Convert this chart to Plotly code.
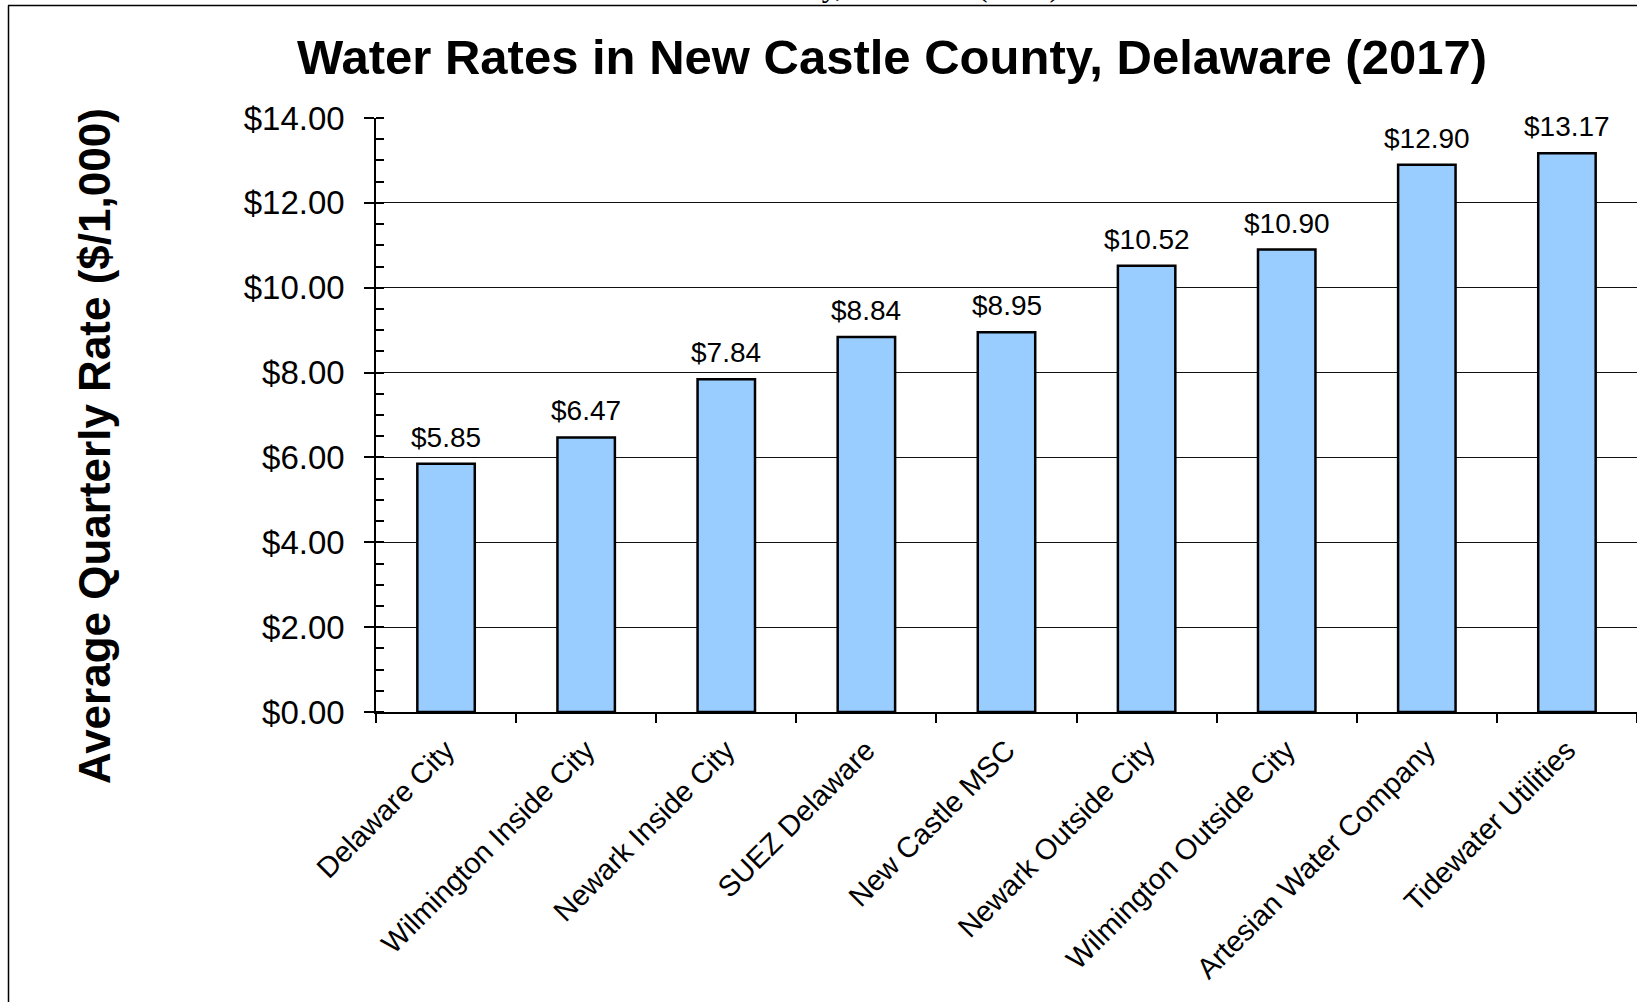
import plotly.graph_objects as go

# ---- data ----
categories = [
    "Delaware City",
    "Wilmington Inside City",
    "Newark Inside City",
    "SUEZ Delaware",
    "New Castle MSC",
    "Newark Outside City",
    "Wilmington Outside City",
    "Artesian Water Company",
    "Tidewater Utilities",
]
rates = [5.85, 6.47, 7.84, 8.84, 8.95, 10.52, 10.90, 12.90, 13.17]
title_text = "Water Rates in New Castle County, Delaware (2017)"
y_title = "Average Quarterly Rate ($/1,000)"

# ---- layout geometry (page pixels; body margin removed below) ----
W, H = 1637, 1002
L, R, T, B = 376, 1637, 118, 712   # plot area


def px_x(px):
    return (px - L) / (R - L)


def px_y(py):
    return (B - py) / (B - T)


FONT = "Liberation Sans, Arial, sans-serif"

fig = go.Figure()
fig.add_trace(
    go.Bar(
        x=categories,
        y=rates,
        marker=dict(color="#99CCFF", line=dict(color="#000000", width=2.5)),
        hoverinfo="x+y",
    )
)

annotations = []
for c, v in zip(categories, rates):
    annotations.append(
        dict(
            x=c, y=v, xref="x", yref="y",
            text=f"${v:.2f}",
            showarrow=False,
            yanchor="bottom",
            yshift=9,
            font=dict(family=FONT, size=28, color="#000000"),
        )
    )

# y-axis title
annotations.append(
    dict(
        x=px_x(95), y=px_y(446), xref="paper", yref="paper",
        text=f"<b>{y_title}</b>",
        textangle=-90,
        showarrow=False,
        xanchor="center", yanchor="middle",
        font=dict(family=FONT, size=44, color="#000000"),
    )
)

# clipped document caption fragment at the very top
annotations.append(
    dict(
        x=px_x(1062), y=px_y(5.2), xref="paper", yref="paper",
        text=title_text,
        showarrow=False,
        xanchor="right", yanchor="bottom",
        font=dict(family="Liberation Serif, Times New Roman, serif", size=31, color="#000000"),
    )
)

shapes = [
    # top border
    dict(type="line", xref="paper", yref="paper",
         x0=px_x(8), x1=px_x(1650), y0=px_y(5.5), y1=px_y(5.5),
         line=dict(color="#000000", width=1.5)),
    # left border
    dict(type="line", xref="paper", yref="paper",
         x0=px_x(8.5), x1=px_x(8.5), y0=px_y(5.5), y1=px_y(1010),
         line=dict(color="#000000", width=1.5)),
]

fig.update_layout(
    width=W, height=H,
    margin=dict(l=L, r=W - R, t=T, b=H - B, pad=0),
    paper_bgcolor="#FFFFFF",
    plot_bgcolor="#FFFFFF",
    bargap=0.59,
    showlegend=False,
    title=dict(
        text=f"<b>{title_text}</b>",
        x=892 / W, xref="container", xanchor="center",
        y=1 - 57 / H, yref="container", yanchor="middle",
        font=dict(family=FONT, size=49, color="#000000"),
    ),
    annotations=annotations,
    shapes=shapes,
    font=dict(family=FONT, color="#000000"),
)

fig.update_yaxes(
    range=[0, 14],
    dtick=2,
    tick0=0,
    tickformat="$.2f",
    tickfont=dict(family=FONT, size=33, color="#000000"),
    ticks="outside",
    ticklen=10,
    tickwidth=1.5,
    tickcolor="#000000",
    ticklabelstandoff=13,
    showline=True,
    linecolor="#000000",
    linewidth=1.5,
    showgrid=True,
    gridcolor="#111111",
    gridwidth=1,
    zeroline=False,
    minor=dict(dtick=0.5, ticks="inside", ticklen=8, tickwidth=1.5,
               tickcolor="#000000", showgrid=False),
)

fig.update_xaxes(
    tickangle=-45,
    tickfont=dict(family=FONT, size=29, color="#000000"),
    ticks="outside",
    tickson="boundaries",
    ticklen=9,
    tickwidth=1.5,
    tickcolor="#000000",
    ticklabelstandoff=8,
    showline=True,
    linecolor="#000000",
    linewidth=1.5,
    showgrid=False,
    zeroline=False,
)

fig.write_html(
    "out.html",
    config={"displayModeBar": False},
    post_script="document.body.style.margin='0';document.body.style.overflow='hidden';",
)
